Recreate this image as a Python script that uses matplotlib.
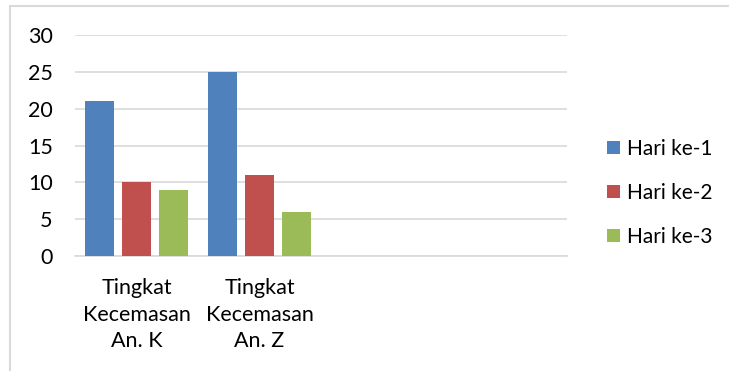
import matplotlib.pyplot as plt
import numpy as np
from matplotlib.patches import Rectangle

categories = ['Tingkat\nKecemasan\nAn. K', 'Tingkat\nKecemasan\nAn. Z', '', '']
series = ['Hari ke-1', 'Hari ke-2', 'Hari ke-3']
hari1 = [21, 25]
hari2 = [10, 11]
hari3 = [9, 6]
colors = ['#4f81bd', '#c0504d', '#9bbb59']

plt.rcParams['font.family'] = ['Lato', 'DejaVu Sans']

fig = plt.figure(figsize=(7.29, 3.71), dpi=100)
ax = fig.add_axes([75/729, 1-256/371, (567-75)/729, (256-35)/371])

# chart area border
fig.patches.append(Rectangle((10/729, -0.05), 1.2, 1-6/371+0.05, transform=fig.transFigure,
                             fill=False, edgecolor='#d9d9d9', lw=1.5))

x = np.arange(len(hari1))
w = 0.236
step = 0.297
for i, vals in enumerate([hari1, hari2, hari3]):
    ax.bar(x + (i-1)*step, vals, w, color=colors[i], label=series[i], zorder=3)

ax.set_xlim(-0.5, 3.5)
ax.set_ylim(0, 30)
ax.set_yticks(range(0, 31, 5))
ax.set_xticks(range(len(categories)))
ax.set_xticklabels(categories, linespacing=1.4)
ax.yaxis.grid(True, color='#d9d9d9', lw=1.2, zorder=0)
ax.tick_params(axis='both', length=0, labelsize=15.5, colors='#000000')
ax.tick_params(axis='y', pad=16)
ax.tick_params(axis='x', pad=16)
for s in ['top', 'right', 'left']:
    ax.spines[s].set_visible(False)
ax.spines['bottom'].set_color('#d9d9d9')
ax.spines['bottom'].set_linewidth(1.2)

fig.legend(loc='center left', bbox_to_anchor=(607/729, 1-193/371), frameon=False,
           fontsize=15, handlelength=0.6, handleheight=0.6, handletextpad=0.35,
           labelspacing=1.15, borderpad=0, borderaxespad=0)

fig.savefig('out.png', dpi=100)
